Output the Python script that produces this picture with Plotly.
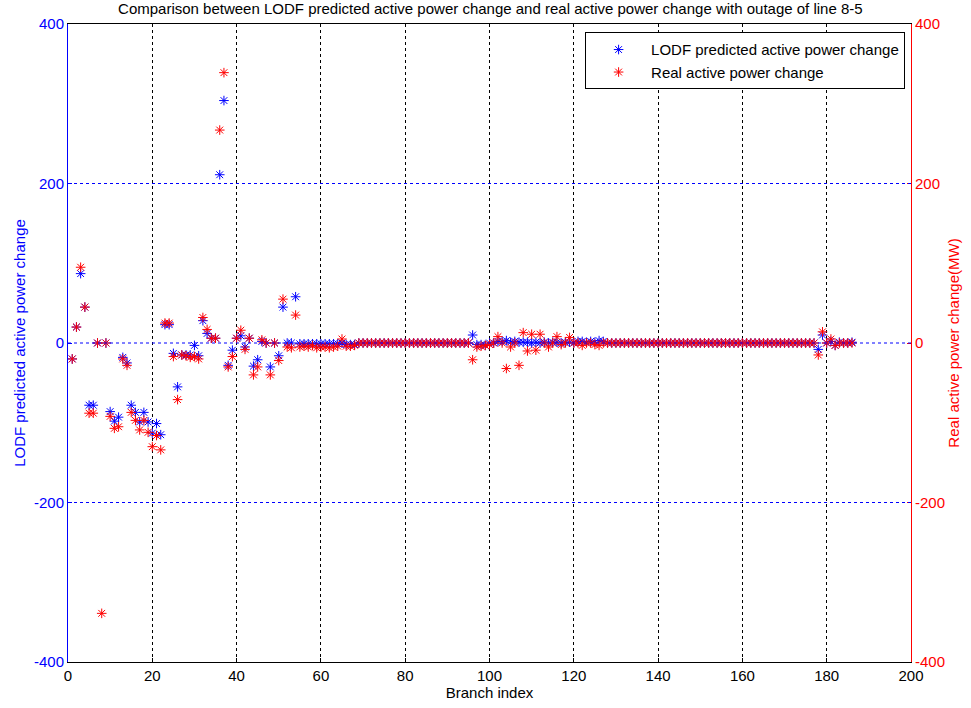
import plotly.graph_objects as go

# Branch index 1..186
branch = list(range(1, 187))

# LODF predicted values for branches 1..68
lodf_head = [-20, 20, 87, 45, -78, -78, 0, None, 0, -86,
             -98, -93, -18, -25, -78, -87, -99, -87, -99, -113,
             -101, -115, 23, 23, -13, -55, -15, -15, -15, -3,
             -16, 28, 12, 6, 6, 211, 304, -28, -9, 6,
             9, -5, 6, -29, -21, 2, 0, -30, 0, -16,
             45, 0, 0, 58, -1, -1, -1, -1, -1, -1,
             -1, -1, -1, -1, 0, -2, -2, -2]
real_head = [-20, 20, 95, 45, -88, -88, 0, -339, 0, -92,
             -107, -105, -20, -28, -87, -97, -109, -97, -112, -130,
             -116, -134, 25, 25, -17, -71, -15, -16, -18, -17,
             -20, 32, 17, 6, 6, 267, 339, -30, -17, 6,
             16, -8, 6, -40, -30, 4, 0, -40, 0, -22,
             55, -5, -6, 35, -5, -4, -5, -3, -6, -5,
             -5, -6, -5, -4, 5, -4, -4, -3]

# Branches 69..95
lodf_mid1 = [0] * 27
real_mid1 = [0] * 27

# Branches 96..126
lodf_mid2 = [10, -2, -2, -3, 0, 0, 2, 2, 3, 1,
             2, 1, 1, 1, 0, 1, 0, 1, 0, 1,
             1, 0, 1, 1, 0, 2, 2, 1, 2, 1, 3]
real_mid2 = [-21, -5, -4, -3, -2, 0, 8, 0, -32, -5,
             0, -28, 13, -10, 11, -9, 11, 0, -5, 0,
             8, -2, 0, 7, 0, 0, -3, 0, 0, -2, -3]

# Branches 127..177
lodf_mid3 = [2] + [0] * 50
real_mid3 = [0] * 51

# Branches 178..186
lodf_tail = [-8, 10, 0, 2, -3, 1, 0, 0, 1]
real_tail = [-15, 14, 0, 5, -3, 0, 0, 0, 0]

lodf = lodf_head + lodf_mid1 + lodf_mid2 + lodf_mid3 + lodf_tail
real = real_head + real_mid1 + real_mid2 + real_mid3 + real_tail

x_ticks = list(range(0, 201, 20))
y_ticks = [-400, -200, 0, 200, 400]
y_ticklabels = ["-400", "-200", "0", "200", "400"]

title = ("Comparison between LODF predicted active power change and real "
         "active power change with outage of line 8-5")

font = "Liberation Sans, Arial, sans-serif"
BLUE = "#0000FF"
RED = "#FF0000"

fig = go.Figure()
fig.add_trace(go.Scatter(
    x=branch, y=lodf, mode="markers", name="LODF predicted active power change",
    marker=dict(symbol="asterisk-open", size=8, color=BLUE,
                line=dict(width=1, color=BLUE)),
    yaxis="y"))
fig.add_trace(go.Scatter(
    x=branch, y=real, mode="markers", name="Real active power change",
    marker=dict(symbol="asterisk-open", size=8, color=RED,
                line=dict(width=1, color=RED)),
    yaxis="y2"))

# horizontal blue dashed grid at the inner y tick values
for v in y_ticks[1:-1]:
    fig.add_shape(type="line", xref="paper", x0=0, x1=1, yref="y", y0=v, y1=v,
                  line=dict(color=BLUE, width=1, dash="3px,3px"), layer="above")

fig.update_layout(
    width=971, height=708,
    margin=dict(l=68, r=60, t=24, b=46),
    paper_bgcolor="white", plot_bgcolor="white",
    font=dict(family=font, size=15, color="black"),
    title=dict(text=title, x=0.505, xanchor="center", y=0.988, yanchor="middle",
               font=dict(size=15, color="black", family=font)),
    showlegend=True,
    legend=dict(x=0.993, y=0.987, xanchor="right", yanchor="top",
                bgcolor="white", bordercolor="black", borderwidth=1,
                font=dict(size=15, color="black", family=font),
                itemwidth=55, tracegroupgap=0),
    xaxis=dict(range=[0, 200], tickvals=x_ticks,
               showgrid=True, gridcolor="black", griddash="3px,3px", gridwidth=1,
               zeroline=False, showline=True, linecolor="black", linewidth=1,
               mirror=True, ticks="inside", ticklen=4, tickcolor="black",
               title=dict(text="Branch index", font=dict(size=15), standoff=2),
               tickfont=dict(size=15, color="black")),
    yaxis=dict(range=[-400, 400], tickvals=y_ticks, ticktext=y_ticklabels,
               showgrid=False,
               zeroline=False, showline=True, linecolor=BLUE, linewidth=1,
               ticks="inside", ticklen=4, tickcolor=BLUE,
               tickfont=dict(size=15, color=BLUE),
               title=dict(text="LODF predicted active power change",
                          font=dict(size=15, color=BLUE), standoff=4)),
    yaxis2=dict(range=[-400, 400], tickvals=y_ticks, ticktext=y_ticklabels,
                overlaying="y", side="right", showgrid=False, zeroline=False,
                showline=True, linecolor=RED, linewidth=1,
                ticks="inside", ticklen=4, tickcolor=RED,
                tickfont=dict(size=15, color=RED),
                title=dict(text="Real active power change(MW)",
                           font=dict(size=15, color=RED), standoff=4)),
)

fig.write_html("out.html")
